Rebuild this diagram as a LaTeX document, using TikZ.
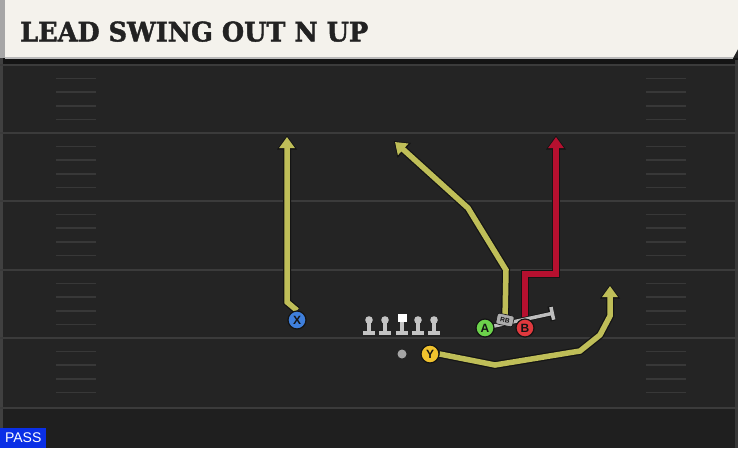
\documentclass[tikz,border=0pt]{standalone}
\usepackage{fontspec}
\setmainfont{DejaVu Sans}
\newfontfamily\titlefont[BoldFeatures={FakeBold=1.6}]{DejaVu Serif}
\newfontfamily\labelfont{Liberation Sans}
\usetikzlibrary{arrows.meta}
\definecolor{fieldbg}{HTML}{242424}
\definecolor{fieldlow}{HTML}{1F1F1F}
\definecolor{yardline}{HTML}{3B3B3B}
\definecolor{hashcol}{HTML}{383838}
\definecolor{headercol}{HTML}{F4F2EC}
\definecolor{titlecol}{HTML}{222222}
\definecolor{routeyellow}{HTML}{BFBE58}
\definecolor{routered}{HTML}{B5102F}
\definecolor{outlinecol}{HTML}{141414}
\definecolor{xblue}{HTML}{3F7FDB}
\definecolor{agreen}{HTML}{6CD24B}
\definecolor{bred}{HTML}{E0393E}
\definecolor{yyellow}{HTML}{F0C22E}
\definecolor{olgray}{HTML}{C4C4C4}
\definecolor{blockgray}{HTML}{BDBDBD}
\definecolor{passblue}{HTML}{0A2FE6}
\pgfdeclarelayer{field}
\pgfdeclarelayer{routes}
\pgfsetlayers{field,routes,main}
\tikzset{
  player/.style={circle, draw=outlinecol, line width=1.2pt, minimum size=18pt, inner sep=0pt,
    font=\labelfont\bfseries\fontsize{12}{12}\selectfont, text=outlinecol},
  routeout/.style={draw=outlinecol, line width=8pt, line join=miter,
    -{Triangle[length=14pt,width=19pt]}, shorten >=-1.5pt},
  routein/.style={line width=5.5pt, line join=miter, -{Triangle[length=11pt,width=15pt]}},
  lineman/.pic={
    \fill[olgray] (0,-5) circle (3.8);
    \fill[olgray] (-2,-5) rectangle (2,7);
    \fill[olgray] (-6,6) rectangle (6,9.5);
  },
  centerman/.pic={
    \fill[olgray] (-2,-5) rectangle (2,7);
    \fill[white] (-4.5,-11) rectangle (4.5,-3);
    \fill[olgray] (-6,6) rectangle (6,9.5);
  }
}
\newcommand\playroute[2]{\draw[routeout] #2; \draw[routein,draw=#1] #2;}
\begin{document}
\begin{tikzpicture}[x=1pt,y=-1pt]
\useasboundingbox (0,0) rectangle (738,448);
\begin{pgfonlayer}{field}
  \fill[fieldbg] (0,0) rectangle (738,448);
  \fill[fieldlow] (0,409) rectangle (738,448);
  \fill[black!92] (0,58) rectangle (738,64);
  \fill[black!75] (0,0) rectangle (3,448);
  \fill[black!78] (735,60) rectangle (738,448);
  \foreach \yl in {65,133,201,270,338,408}
    \draw[yardline, line width=2pt] (0,\yl) -- (738,\yl);
  \foreach \yb in {65,133,201,270,338}
    \foreach \k in {1,2,3,4}{
      \draw[hashcol, line width=1.6pt] (56,\yb+13.6*\k) -- (96,\yb+13.6*\k);
      \draw[hashcol, line width=1.6pt] (646,\yb+13.6*\k) -- (686,\yb+13.6*\k);
    }
  % header
  \fill[gray!70] (0,0) rectangle (5,58);
  \fill[headercol] (5,0) -- (738,0) -- (738,49) -- (733,58) -- (5,58) -- cycle;
  \fill[gray!55] (5,57) rectangle (733,59);
\end{pgfonlayer}

\node[anchor=south west, inner sep=0pt, text=titlecol] (title) at (20,42)
  {\resizebox{348pt}{20pt}{\titlefont\bfseries LEAD SWING OUT N UP}};

% players
\node[player, fill=xblue] (X) at (297,320) {X};
\node[player, fill=agreen] (A) at (485,328) {A};
\node[player, fill=bred] (B) at (525,328) {B};
\node[player, fill=yyellow] (Y) at (430,354) {Y};
\node[circle, fill=gray!70, minimum size=9pt, inner sep=0pt] (qb) at (402,354) {};
\node[rounded corners=2pt, fill=gray!65, draw=outlinecol, line width=0.6pt, rotate=-12,
  minimum width=17pt, minimum height=11pt, inner sep=0pt,
  font=\labelfont\bfseries\fontsize{6.5}{6.5}\selectfont, text=outlinecol] (rb) at (505,320) {RB};
\coordinate (blk) at (554,313);

\pic (lt) at (369,325) {lineman};
\pic (lg) at (385,325) {lineman};
\pic (c) at (402,325) {centerman};
\pic (rg) at (418,325) {lineman};
\pic (rt) at (434,325) {lineman};

\begin{pgfonlayer}{routes}
  \playroute{routeyellow}{(X.north) -- (287,302) -- (287,137)}
  \playroute{routeyellow}{(rb.center) -- (506,270) -- (468,208) -- (395,142)}
  \playroute{routeyellow}{(Y.east) -- (495,365) -- (580,351) -- (600,335) -- (610,316) -- (610,286)}
  \playroute{routered}{(B.center) -- (525,274) -- (556,274) -- (556,137)}
  \draw[outlinecol, line width=5pt, -{Bar[width=15pt,line width=5pt]}] (A.center) -- (blk);
  \draw[blockgray, line width=3.5pt, -{Bar[width=13pt,line width=3.5pt]}] (A.center) -- (blk);
\end{pgfonlayer}

\node[fill=passblue, text=white, anchor=south west, inner sep=0pt, minimum width=46pt,
  minimum height=20pt, font=\labelfont\fontsize{14}{14}\selectfont] (pass) at (0,448) {PASS};
\end{tikzpicture}
\end{document}
